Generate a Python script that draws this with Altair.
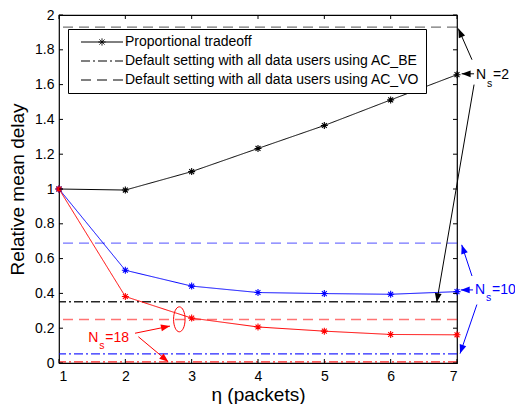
import math
import altair as alt
import pandas as pd

W, H = 398, 348
FONT = "Liberation Sans"

# ---------------- data ----------------
eta = [1, 2, 3, 4, 5, 6, 7]
delay_ns2 = [1.0, 0.994, 1.10, 1.233, 1.365, 1.512, 1.657]
delay_ns10 = [1.0, 0.533, 0.442, 0.405, 0.399, 0.395, 0.41]
delay_ns18 = [1.0, 0.382, 0.258, 0.207, 0.183, 0.164, 0.162]

series_names = ["2", "10", "18"]
series_colors = ["#000000", "#0000ff", "#ff0000"]

KIND_PROP = "Proportional tradeoff"
KIND_BE = "Default setting with all data users using AC_BE"
KIND_VO = "Default setting with all data users using AC_VO"
kinds = [KIND_PROP, KIND_BE, KIND_VO]

default_be = [0.352, 0.052, 0.006]   # per series 2, 10, 18
default_vo = [1.93, 0.689, 0.25]

x_ticks = [1, 2, 3, 4, 5, 6, 7]
y_ticks = [0, 0.2, 0.4, 0.6, 0.8, 1.0, 1.2, 1.4, 1.6, 1.8, 2.0]

# annotation arrows (data units): start -> end (head at end)
arrow_series = ["2", "2", "2", "10", "10", "10", "18", "18"]
arrow_x0 = [7.226, 7.257, 7.257, 7.226, 7.241, 7.30, 2.146, 2.196]
arrow_y0 = [1.743, 1.662, 1.60, 0.50, 0.42, 0.336, 0.171, 0.151]
arrow_x1 = [7.02, 7.07, 6.694, 7.071, 7.056, 7.046, 2.673, 2.648]
arrow_y1 = [1.922, 1.662, 0.349, 0.679, 0.42, 0.054, 0.212, 0.007]

label_series = ["2", "10", "18"]
label_x = [7.287, 7.272, 1.442]
label_y = [1.654, 0.42, 0.146]
label_rest = ["=2", "=10", "=18"]

ellipse_series = ["18"]
ellipse_x = [2.814]
ellipse_y = [0.251]

# ---------------- tables ----------------
curves = pd.DataFrame({
    "eta": eta * 3,
    "delay": delay_ns2 + delay_ns10 + delay_ns18,
    "series": [s for s in series_names for _ in eta],
    "kind": [KIND_PROP] * (3 * len(eta)),
})
rules = pd.DataFrame({
    "series": series_names * 2,
    "kind": [KIND_BE] * 3 + [KIND_VO] * 3,
    "value": default_be + default_vo,
})
angles = []
for a, b, c, d in zip(arrow_x0, arrow_y0, arrow_x1, arrow_y1):
    dx = (c - a) * W / 6.0
    dy = -(d - b) * H / 2.0
    angles.append(math.degrees(math.atan2(dy, dx)) % 360)
arrows = pd.DataFrame({
    "series": arrow_series, "x0": arrow_x0, "y0": arrow_y0,
    "x1": arrow_x1, "y1": arrow_y1, "angle": angles,
})
labels = pd.DataFrame({"series": label_series, "x": label_x, "y": label_y, "rest": label_rest})
ellipse = pd.DataFrame({"series": ellipse_series, "x": ellipse_x, "y": ellipse_y})
xt = pd.DataFrame({"t": x_ticks})
yt = pd.DataFrame({"t": y_ticks})

# ---------------- scales / shapes ----------------
xs = alt.Scale(domain=[1, 7], nice=False, zero=False)
ys = alt.Scale(domain=[0, 2], nice=False, zero=False)
cs = alt.Scale(domain=series_names, range=series_colors)
dash_scale = alt.Scale(domain=kinds, range=[[1, 0], [9, 3, 2, 3], [10, 6]])

STAR = "M-1,0L1,0M0,-1L0,1M-0.7,-0.7L0.7,0.7M-0.7,0.7L0.7,-0.7"
LINE_PATH = "M-7,0L7,0"
STAR_LEGEND = ("M-7,0L7,0M-1.2,0L1.2,0M0,-1.2L0,1.2"
               "M-0.85,-0.85L0.85,0.85M-0.85,0.85L0.85,-0.85")
HEAD = "M0,0L-1,-0.38L-1,0.38Z"
ELLIPSE = "M-0.46,0A0.46,1 0 1,0 0.46,0A0.46,1 0 1,0 -0.46,0"

legend = alt.Legend(
    title=None, orient="none", legendX=9, legendY=14,
    padding=6, rowPadding=5, strokeColor="black", fillColor="white",
    symbolType={"expr": "datum.value === '" + KIND_PROP + "' ? '" + STAR_LEGEND + "' : '" + LINE_PATH + "'"},
    symbolSize=36, symbolOffset=21, labelOffset=16,
    symbolStrokeColor="black", symbolStrokeWidth=1, symbolOpacity=1,
    labelFont=FONT, labelFontSize=14, labelColor="black", labelLimit=0,
    cornerRadius=0,
)

color = alt.Color("series:N", scale=cs, legend=None)

x_axis = alt.Axis(values=x_ticks, title="\u03b7 (packets)", format="~g",
                  labelPadding=6, titlePadding=2)
y_axis = alt.Axis(values=y_ticks, title="Relative mean delay", format="~g",
                  labelPadding=5, titlePadding=7)

def X(field):
    return alt.X(field, scale=xs, axis=x_axis)

def Y(field):
    return alt.Y(field, scale=ys, axis=y_axis)

rule_layer = alt.Chart(rules).mark_rule(strokeWidth=1.3).encode(
    y=Y("value:Q"),
    color=color,
    strokeDash=alt.StrokeDash("kind:N", scale=dash_scale, legend=legend),
    opacity=alt.Opacity("kind:N", scale=alt.Scale(domain=[KIND_BE, KIND_VO], range=[0.85, 0.55]), legend=None),
)

line_layer = alt.Chart(curves).mark_line(strokeWidth=1).encode(
    x=X("eta:Q"),
    y=Y("delay:Q"),
    color=color,
    detail="series:N",
    strokeDash=alt.StrokeDash("kind:N", scale=dash_scale, legend=legend),
)

point_layer = alt.Chart(curves).mark_point(shape=STAR, size=49, filled=False, strokeWidth=1.1, opacity=1).encode(
    x=X("eta:Q"), y=Y("delay:Q"), color=color,
)

arrow_shaft = alt.Chart(arrows).mark_rule(strokeWidth=1).encode(
    x=X("x0:Q"), y=Y("y0:Q"), x2="x1:Q", y2="y1:Q", color=color,
)
arrow_head = alt.Chart(arrows).mark_point(shape=HEAD, size=324, filled=True, opacity=1).encode(
    x=X("x1:Q"), y=Y("y1:Q"), angle=alt.Angle("angle:Q", scale=None), color=color,
)
ellipse_layer = alt.Chart(ellipse).mark_point(shape=ELLIPSE, size=625, filled=False, strokeWidth=1, opacity=1).encode(
    x=X("x:Q"), y=Y("y:Q"), color=color,
)

txt_n = alt.Chart(labels).mark_text(text="N", font=FONT, fontSize=14, align="left", baseline="middle").encode(
    x=X("x:Q"), y=Y("y:Q"), color=color)
txt_s = alt.Chart(labels).mark_text(text="s", font=FONT, fontSize=10.5, align="left", baseline="middle", dx=11, dy=8.5).encode(
    x=X("x:Q"), y=Y("y:Q"), color=color)
txt_rest = alt.Chart(labels).mark_text(font=FONT, fontSize=14, align="left", baseline="middle", dx=17).encode(
    x=X("x:Q"), y=Y("y:Q"), text="rest:N", color=color)

tick_style = dict(color="black", strokeWidth=1)
tick_top = alt.Chart(xt).mark_rule(**tick_style).encode(
    x=X("t:Q"), y=alt.value(0), y2=alt.value(4))
tick_bot = alt.Chart(xt).mark_rule(**tick_style).encode(
    x=X("t:Q"), y=alt.value(H - 4), y2=alt.value(H))
tick_left = alt.Chart(yt).mark_rule(**tick_style).encode(
    y=Y("t:Q"), x=alt.value(0), x2=alt.value(4))
tick_right = alt.Chart(yt).mark_rule(**tick_style).encode(
    y=Y("t:Q"), x=alt.value(W - 4), x2=alt.value(W))

chart = alt.layer(
    rule_layer, line_layer, point_layer, arrow_shaft, arrow_head, ellipse_layer,
    txt_n, txt_s, txt_rest, tick_top, tick_bot, tick_left, tick_right,
).properties(
    width=W, height=H,
    autosize=alt.AutoSizeParams(type="none"),
    padding={"left": 51, "top": 7, "right": 58, "bottom": 41},
).configure_view(
    stroke="black", strokeWidth=1.2,
).configure_axis(
    domain=False, ticks=False, grid=False,
    labelFont=FONT, labelFontSize=14, labelColor="black",
    titleFont=FONT, titleFontSize=19, titleFontWeight="normal", titleColor="black",
)

chart.save("out.html", embed_options={"renderer": "svg", "actions": False})
